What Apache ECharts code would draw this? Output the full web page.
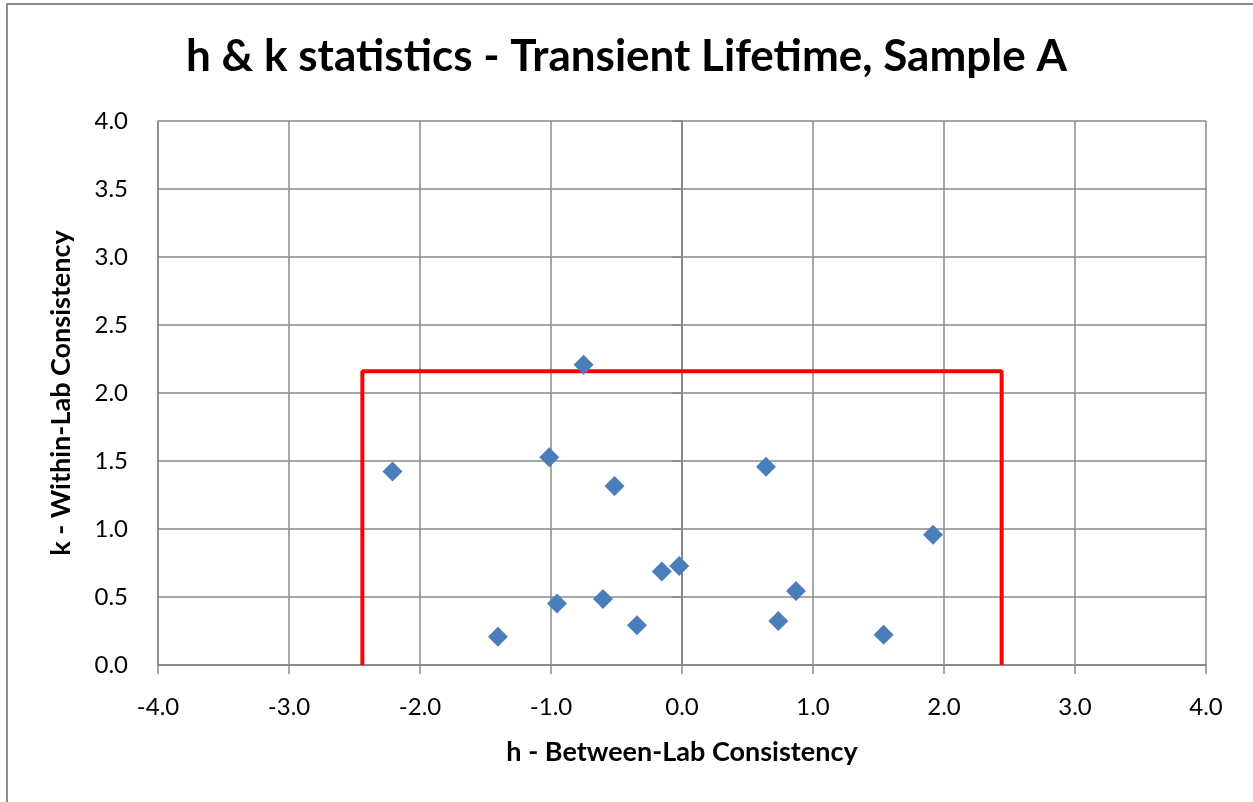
<!DOCTYPE html>
<html>
<head>
<meta charset="utf-8">
<script src="https://cdn.jsdelivr.net/npm/echarts@6/dist/echarts.min.js"></script>
<style>
html,body{margin:0;padding:0;background:#fff;}
#chart{width:1253px;height:802px;}
</style>
</head>
<body>
<div id="chart"></div>
<script>
const titleText = 'h & k statistics - Transient Lifetime, Sample A';
const xName = 'h - Between-Lab Consistency';
const yName = 'k - Within-Lab Consistency';

const hValues = [-2.21, -1.405, -1.013, -0.954, -0.751, -0.603, -0.515, -0.344, -0.154, -0.021, 0.641, 0.735, 0.870, 1.539, 1.916];
const kValues = [1.422, 0.207, 1.527, 0.452, 2.207, 0.486, 1.317, 0.293, 0.688, 0.728, 1.457, 0.323, 0.545, 0.222, 0.958];

const hCrit = 2.44;
const kCrit = 2.16;
const limitX = [-hCrit, -hCrit, hCrit, hCrit];
const limitY = [0, kCrit, kCrit, 0];

const points = hValues.map((h, i) => [h, kValues[i]]);
const limitLine = limitX.map((x, i) => [x, limitY[i]]);

const FONT = 'Lato';
const gridColor = '#8a8a8a';

const chart = echarts.init(document.getElementById('chart'), null, {renderer: 'canvas'});
chart.setOption({
  backgroundColor: '#ffffff',
  animation: false,
  title: {
    text: titleText,
    left: 'center',
    top: 30,
    textStyle: {fontFamily: FONT, fontWeight: 'bold', fontSize: 44, color: '#000'}
  },
  graphic: [{
    type: 'rect',
    shape: {x: 7, y: 4, width: 1270, height: 820},
    style: {fill: 'none', stroke: '#8c8c8c', lineWidth: 2},
    silent: true
  }],
  grid: {left: 158, right: 47, top: 121, bottom: 137},
  xAxis: {
    type: 'value',
    min: -4, max: 4, interval: 1,
    name: xName,
    nameLocation: 'middle',
    nameGap: 74,
    nameTextStyle: {fontFamily: FONT, fontWeight: 'bold', fontSize: 27, color: '#000'},
    axisLine: {onZero: false, lineStyle: {color: gridColor, width: 2}},
    axisTick: {show: true, length: 9, lineStyle: {color: gridColor, width: 1.5}},
    axisLabel: {fontFamily: FONT, fontSize: 24, color: '#000', margin: 30,
      formatter: v => v.toFixed(1)},
    splitLine: {show: true, lineStyle: {color: gridColor, width: 1.5}}
  },
  yAxis: [{
    type: 'value',
    min: 0, max: 4, interval: 0.5,
    name: yName,
    nameLocation: 'middle',
    nameGap: 83,
    nameTextStyle: {fontFamily: FONT, fontWeight: 'bold', fontSize: 27, color: '#000'},
    axisLine: {show: true, onZero: false, lineStyle: {color: gridColor, width: 1.5}},
    axisTick: {show: false},
    axisLabel: {fontFamily: FONT, fontSize: 24, color: '#000', margin: 30,
      formatter: v => v.toFixed(1)},
    splitLine: {show: true, lineStyle: {color: gridColor, width: 1.5}}
  }, {
    type: 'value',
    position: 'left',
    offset: -524,
    min: 0, max: 4, interval: 0.5,
    axisLine: {show: true, onZero: false, lineStyle: {color: gridColor, width: 2}},
    axisTick: {show: true, length: 10, lineStyle: {color: gridColor, width: 1.5}},
    axisLabel: {show: false},
    splitLine: {show: false}
  }],
  series: [{
    type: 'line',
    data: limitLine,
    symbol: 'none',
    lineStyle: {color: '#ff0000', width: 4},
    z: 3
  }, {
    type: 'scatter',
    data: points,
    symbol: 'diamond',
    symbolSize: 20,
    itemStyle: {color: '#4a7ebb', opacity: 1},
    z: 4
  }]
});
</script>
</body>
</html>
